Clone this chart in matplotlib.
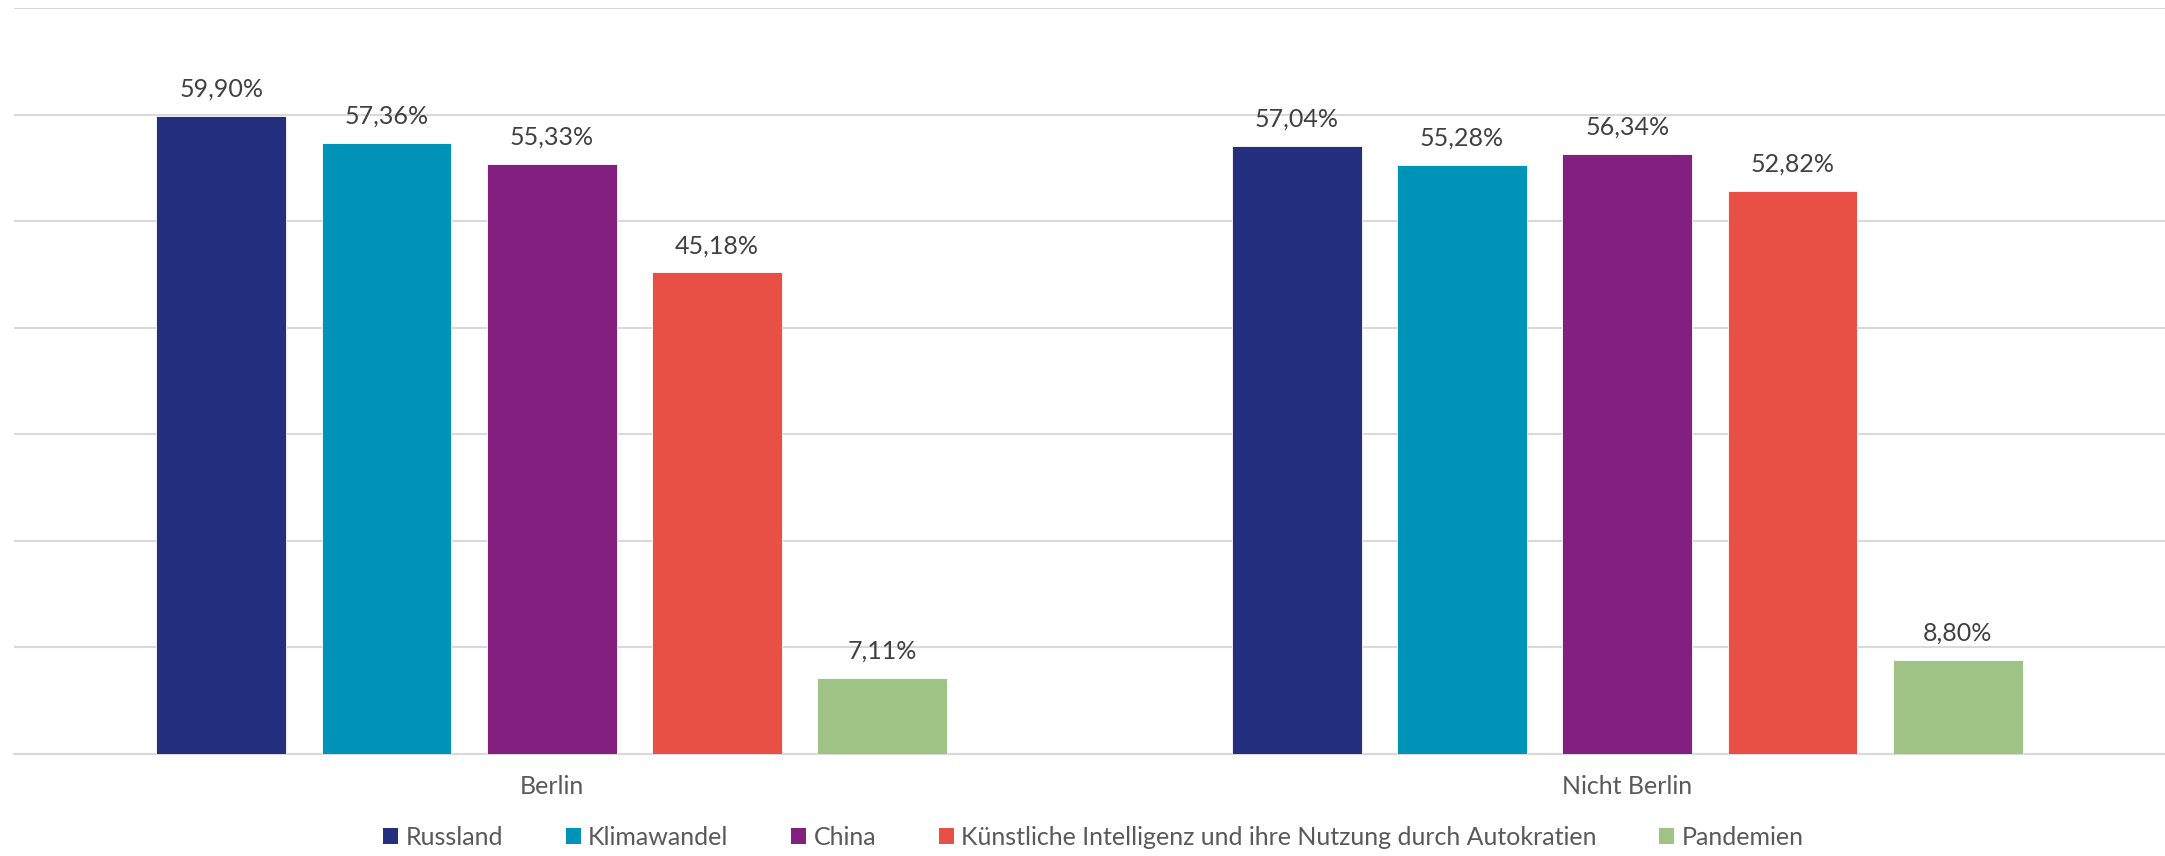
import numpy as np
import matplotlib
matplotlib.use("Agg")
import matplotlib.pyplot as plt
from matplotlib.patches import Patch

plt.rcParams['font.family'] = ['Lato', 'DejaVu Sans']

groups = ["Berlin", "Nicht Berlin"]
series_names = ["Russland", "Klimawandel", "China",
                "Künstliche Intelligenz und ihre Nutzung durch Autokratien", "Pandemien"]
russland = [59.90, 57.04]
klimawandel = [57.36, 55.28]
china = [55.33, 56.34]
ki = [45.18, 52.82]
pandemien = [7.11, 8.80]
colors = ["#252F7F", "#0093B8", "#831F7E", "#E85046", "#9FC285"]

values = [russland, klimawandel, china, ki, pandemien]

fig = plt.figure(figsize=(21.65, 8.56), dpi=100)
ax = fig.add_axes([0.0065, 0.1192, 0.9935, 0.8715])

x = np.arange(len(groups))
step = 0.1537
width = 0.1207
text_col = "#404040"

for i, (name, vals, col) in enumerate(zip(series_names, values, colors)):
    pos = x + (i - 2) * step
    bars = ax.bar(pos, vals, width=width, color=col, label=name, zorder=3,
                  edgecolor="white", linewidth=0.6)
    for b, v in zip(bars, vals):
        ax.annotate(f"{v:.2f}".replace(".", ",") + "%",
                    (b.get_x() + b.get_width() / 2, v),
                    xytext=(0, 11), textcoords="offset points",
                    ha="center", va="bottom", fontsize=18, color=text_col)

ax.set_xlim(-0.5, 1.5)
ax.set_ylim(0, 70)
ax.set_yticks(np.arange(0, 71, 10))
ax.yaxis.grid(True, color="#d9d9d9", linewidth=1.5, zorder=0)
ax.tick_params(axis="y", left=False, labelleft=False)
ax.tick_params(axis="x", bottom=False, labelsize=18, labelcolor="#595959", pad=12)
ax.set_xticks(x)
ax.set_xticklabels(groups)
for s in ["top", "right", "left"]:
    ax.spines[s].set_visible(False)
ax.spines["bottom"].set_color("#d9d9d9")
ax.spines["bottom"].set_linewidth(1.5)

handles = [Patch(facecolor=c, edgecolor="none", label=n) for n, c in zip(series_names, colors)]
fig.legend(handles=handles, loc="center", bbox_to_anchor=(0.505, 0.022),
           ncol=5, frameon=False, fontsize=18, labelcolor="#595959",
           handlelength=0.6, handleheight=0.6, handletextpad=0.3,
           columnspacing=2.5)

fig.savefig("out.png", dpi=100)
